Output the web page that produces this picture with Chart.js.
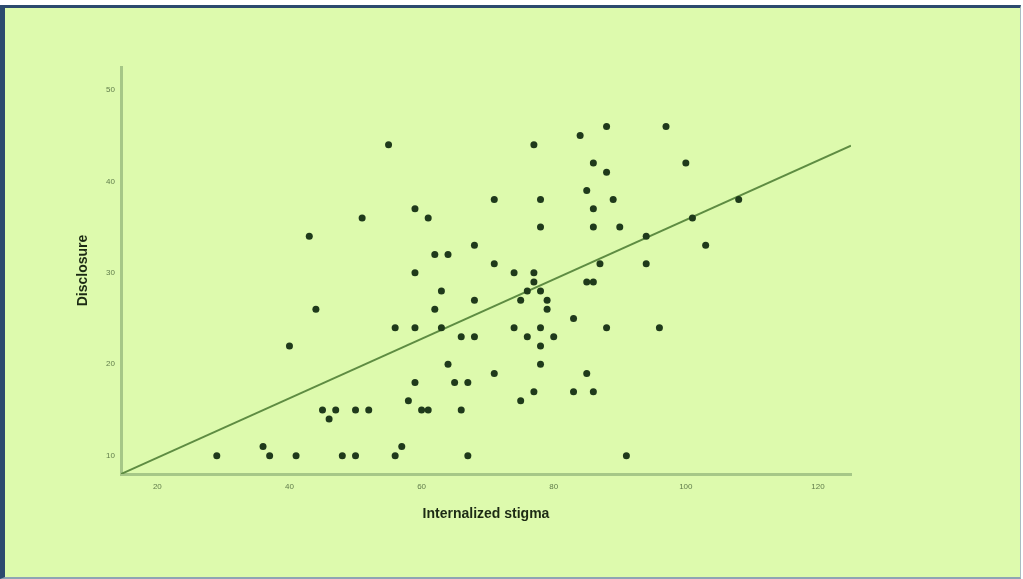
<!DOCTYPE html>
<html lang="en">
<head>
  <meta charset="UTF-8" />
  <title>Internalized stigma vs Disclosure</title>
  <script src="https://cdn.jsdelivr.net/npm/chart.js"></script>
  <style>
    html, body {
      margin: 0;
      padding: 0;
      background: #fff;
      width: 1023px;
      height: 579px;
      overflow: hidden;
    }
    .frame {
      position: absolute;
      left: 0;
      top: 5px;
      width: 1015px;
      height: 569px;
      background: #ddfaad;
      border-top: 3px solid #2c4a6e;
      border-left: 5px solid #2c4a6e;
      border-right: 1px solid #a9bcc2;
      border-bottom: 2px solid #8ea4b4;
    }
    canvas {
      position: absolute;
      left: 0;
      top: 0;
    }
  </style>
</head>
<body>
  <div class="frame"></div>
  <canvas id="scatter" width="1023" height="579"></canvas>

  <script>
    // values
    const stigma = [
      55, 71, 51, 59, 61, 43, 68, 62, 64, 71, 74, 59, 63, 68, 75, 44, 62,
      56, 59, 63, 74, 66, 68, 40, 64, 71, 59, 65, 67, 58, 75,
      45, 47, 50, 52, 46, 60, 61, 66, 36, 57,
      29, 37, 41, 48, 50, 56, 67,
      88, 97, 84, 77, 86, 100, 88, 85, 78, 89, 108, 86, 101, 78, 86, 90,
      94, 103, 94, 87, 77, 77, 85, 86, 76, 78, 79, 79, 83, 78, 88, 96,
      76, 80, 78, 78, 85, 77, 83, 86, 91
    ];
    const disclosure = [
      44, 38, 36, 37, 36, 34, 33, 32, 32, 31, 30, 30, 28, 27, 27, 26, 26,
      24, 24, 24, 24, 23, 23, 22, 20, 19, 18, 18, 18, 16, 16,
      15, 15, 15, 15, 14, 15, 15, 15, 11, 11,
      10, 10, 10, 10, 10, 10, 10,
      46, 46, 45, 44, 42, 42, 41, 39, 38, 38, 38, 37, 36, 35, 35, 35,
      34, 33, 31, 31, 30, 29, 29, 29, 28, 28, 27, 26, 25, 24, 24, 24,
      23, 23, 22, 20, 19, 17, 17, 17, 10
    ];

    // fitted line, ends read at the axis limits
    const fitX = [14.5, 125];
    const fitY = [8.0, 43.9];

    const xTicks = [20, 40, 60, 80, 100, 120];
    const yTicks = [10, 20, 30, 40, 50];

    const points = stigma.map((x, i) => ({ x: x, y: disclosure[i] }));
    const fitLine = fitX.map((x, i) => ({ x: x, y: fitY[i] }));

    const tickFont = { family: "Liberation Sans, Arial, sans-serif", size: 8 };
    const titleFont = { family: "Liberation Sans, Arial, sans-serif", size: 14, weight: "bold" };

    new Chart(document.getElementById("scatter"), {
      type: "scatter",
      data: {
        datasets: [
          {
            label: "Observed",
            data: points,
            backgroundColor: "#1f3a1b",
            borderWidth: 0,
            pointRadius: 3.5,
            pointHoverRadius: 3.5
          },
          {
            type: "line",
            label: "Fit",
            data: fitLine,
            borderColor: "#5e8c42",
            borderWidth: 2,
            pointRadius: 0,
            fill: false
          }
        ]
      },
      options: {
        responsive: false,
        animation: false,
        events: [],
        layout: {
          padding: { left: 61, top: 67, right: 172, bottom: 35 }
        },
        plugins: {
          legend: { display: false },
          tooltip: { enabled: false }
        },
        scales: {
          x: {
            type: "linear",
            min: 14.5,
            max: 125,
            grid: { display: false, drawTicks: false },
            border: { display: true, color: "#a6c787", width: 3 },
            afterBuildTicks: s => { s.ticks = xTicks.map(v => ({ value: v })); },
            afterFit: s => { s.height = 70; },
            ticks: { color: "#617d4c", font: tickFont, padding: 8 },
            title: {
              display: true,
              text: "Internalized stigma",
              color: "#1c2a14",
              font: titleFont,
              padding: { top: 0, bottom: 21 }
            }
          },
          y: {
            type: "linear",
            min: 8,
            max: 52.5,
            grid: { display: false, drawTicks: false },
            border: { display: true, color: "#a6c787", width: 3 },
            afterBuildTicks: s => { s.ticks = yTicks.map(v => ({ value: v })); },
            afterFit: s => { s.width = 60; },
            ticks: { color: "#617d4c", font: tickFont, padding: 6 },
            title: {
              display: true,
              text: "Disclosure",
              color: "#1c2a14",
              font: titleFont,
              padding: { top: 14, bottom: 0 }
            }
          }
        }
      }
    });
  </script>
</body>
</html>
